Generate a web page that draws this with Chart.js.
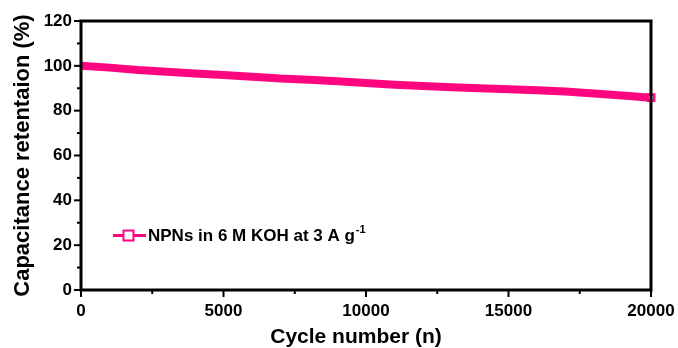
<!DOCTYPE html>
<html>
<head>
<meta charset="utf-8">
<script src="https://cdn.jsdelivr.net/npm/chart.js@4"></script>
<style>
  html, body { margin: 0; padding: 0; background: #fff; }
</style>
</head>
<body>
<canvas id="retentionChart" width="678" height="348"></canvas>
<script>
// --- data ---
const cycles = [0, 1000, 2000, 3000, 4000, 5000, 6000, 7000, 8000, 9000, 10000,
    11000, 12000, 13000, 14000, 15000, 16000, 17000, 18000, 19000, 20000];
const retention = [100, 99.2, 98.1, 97.4, 96.6, 95.9, 95.1, 94.3, 93.8, 93.1, 92.3,
    91.6, 91.0, 90.5, 90.0, 89.6, 89.1, 88.5, 87.7, 86.8, 85.8];
const xTicks = [0, 5000, 10000, 15000, 20000];
const yTicks = [0, 20, 40, 60, 80, 100, 120];
const xMinorTicks = [2500, 7500, 12500, 17500];
const yMinorTicks = [10, 30, 50, 70, 90, 110];

const seriesLabel = 'NPNs in 6 M KOH at 3 A g';
const seriesSup = '-1';
const xTitle = 'Cycle number (n)';
const yTitle = 'Capacitance retentaion (%)';

const FONT = "'Liberation Sans', Arial, sans-serif";
const PINK = '#ff0580';

// frame, outward tick marks, inset legend and axis titles
const decorations = {
    id: 'decorations',
    afterDraw(chart) {
        const { ctx, chartArea: a, scales: { x, y } } = chart;
        ctx.save();
        ctx.strokeStyle = '#000';
        ctx.lineWidth = 3;
        ctx.strokeRect(a.left, a.top, a.right - a.left, a.bottom - a.top);

        ctx.lineWidth = 2;
        const tick = (x1, y1, x2, y2) => {
            ctx.beginPath(); ctx.moveTo(x1, y1); ctx.lineTo(x2, y2); ctx.stroke();
        };
        yTicks.forEach(v => { const p = y.getPixelForValue(v); tick(a.left, p, a.left - 7, p); });
        yMinorTicks.forEach(v => { const p = y.getPixelForValue(v); tick(a.left, p, a.left - 4, p); });
        xTicks.forEach(v => { const p = x.getPixelForValue(v); tick(p, a.bottom, p, a.bottom + 7); });
        xMinorTicks.forEach(v => { const p = x.getPixelForValue(v); tick(p, a.bottom, p, a.bottom + 4); });

        // legend
        const ly = 235.5;
        ctx.strokeStyle = PINK;
        ctx.lineWidth = 3;
        tick(113, ly, 146, ly);
        ctx.fillStyle = '#fff';
        ctx.fillRect(123.5, ly - 5, 10, 10);
        ctx.lineWidth = 2;
        ctx.strokeRect(123.5, ly - 5, 10, 10);

        ctx.fillStyle = '#000';
        ctx.textBaseline = 'alphabetic';
        ctx.textAlign = 'left';
        ctx.font = `bold 17px ${FONT}`;
        ctx.fillText(seriesLabel, 148, 241);
        const w = ctx.measureText(seriesLabel).width;
        ctx.font = `bold 11px ${FONT}`;
        ctx.fillText(seriesSup, 148 + w + 1, 233);

        // axis titles
        ctx.textAlign = 'center';
        ctx.textBaseline = 'middle';
        ctx.font = `bold 21px ${FONT}`;
        ctx.fillText(xTitle, 356, 337);
        ctx.translate(23, 155.5);
        ctx.rotate(-Math.PI / 2);
        ctx.font = `bold 22px ${FONT}`;
        ctx.fillText(yTitle, 0, 0);
        ctx.restore();
    }
};

const last = cycles.length - 1;
new Chart(document.getElementById('retentionChart').getContext('2d'), {
    type: 'line',
    data: {
        datasets: [{
            label: seriesLabel,
            data: cycles.map((c, i) => ({ x: c, y: retention[i] })),
            borderColor: PINK,
            borderWidth: 8,
            tension: 0,
            pointStyle: 'rect',
            pointRadius: ctx => ctx.dataIndex === last ? 4.5 : 0,
            pointBackgroundColor: '#fff',
            pointBorderColor: PINK,
            pointBorderWidth: 2.5,
            clip: false
        }]
    },
    options: {
        responsive: false,
        animation: false,
        layout: { padding: { left: 0, top: 21, right: 27, bottom: 0 } },
        plugins: {
            legend: { display: false },
            tooltip: { enabled: false }
        },
        scales: {
            x: {
                type: 'linear',
                min: 0,
                max: 20000,
                afterBuildTicks: s => { s.ticks = xTicks.map(v => ({ value: v })); },
                afterFit: s => { s.height = 58; s.paddingLeft = 0; s.paddingRight = 0; },
                grid: { display: false, drawTicks: false },
                border: { display: false },
                ticks: {
                    color: '#000',
                    padding: 11,
                    maxRotation: 0,
                    callback: v => String(v),
                    font: { family: FONT, size: 17, weight: 'bold' }
                }
            },
            y: {
                min: 0,
                max: 120,
                afterBuildTicks: s => { s.ticks = yTicks.map(v => ({ value: v })); },
                afterFit: s => { s.width = 81; s.paddingTop = 0; s.paddingBottom = 0; },
                grid: { display: false, drawTicks: false },
                border: { display: false },
                ticks: {
                    color: '#000',
                    padding: 9,
                    callback: v => String(v),
                    font: { family: FONT, size: 17, weight: 'bold' }
                }
            }
        }
    },
    plugins: [decorations]
});
</script>
</body>
</html>
